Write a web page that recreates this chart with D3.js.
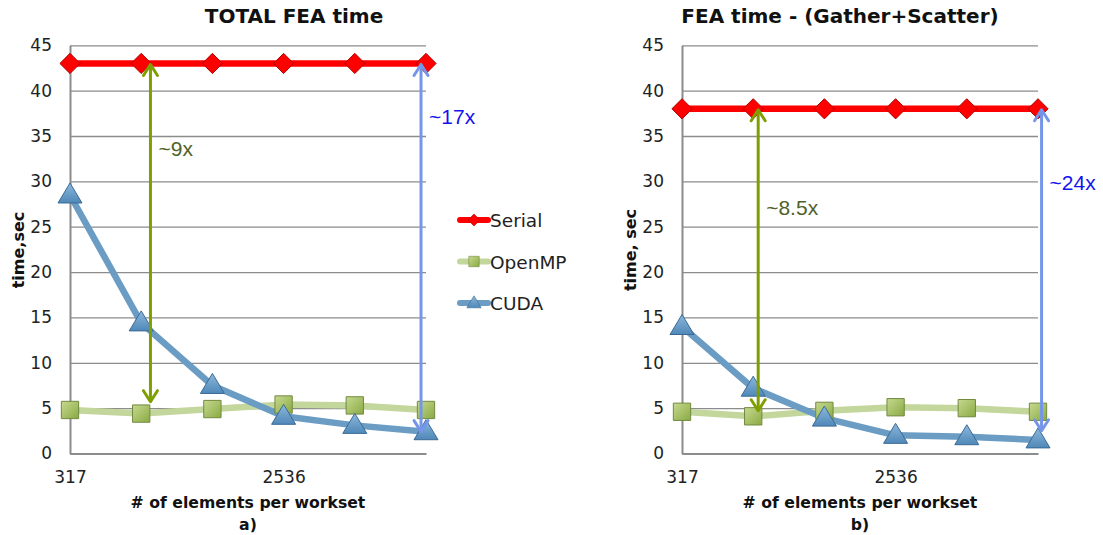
<!DOCTYPE html>
<html>
<head>
<meta charset="utf-8">
<script src="https://cdn.jsdelivr.net/npm/d3@7"></script>
<style>
  body { margin: 0; background: #fff; }
  text { font-family: "DejaVu Sans", sans-serif; }
</style>
</head>
<body>
<div id="visualization-area"></div>
<script>
// data
var categories = ["317", "634", "1268", "2536", "5072", "10144"];
var shownTicks = ["317", "2536"];
var seriesNames = ["Serial", "OpenMP", "CUDA"];

var totalSerial = [43, 43, 43, 43, 43, 43];
var totalOpenMP = [4.8, 4.4, 4.9, 5.4, 5.3, 4.8];
var totalCUDA   = [28.5, 14.4, 7.5, 4.1, 3.1, 2.4];

var gsSerial = [38, 38, 38, 38, 38, 38];
var gsOpenMP = [4.6, 4.1, 4.7, 5.1, 5.0, 4.6];
var gsCUDA   = [14.0, 7.2, 3.9, 2.0, 1.85, 1.5];

var yTicks = [0, 5, 10, 15, 20, 25, 30, 35, 40, 45];

// speedup arrows: [category index + offset, from value, to value, label]
var totalArrows = [
    {pos: 1.13, from: 43, to: 5.6, label: "~9x", labelY: 32.8, color: "#7f9f00", text: "#4f6228"},
    {pos: 4.93, from: 43, to: 2.3, label: "~17x", labelY: 36.3, color: "#7596e8", text: "#1414f0"}
];
var gsArrows = [
    {pos: 1.07, from: 38, to: 4.6, label: "~8.5x", labelY: 26.3, color: "#7f9f00", text: "#4f6228"},
    {pos: 5.05, from: 38, to: 2.4, label: "~24x", labelY: 29.0, color: "#7596e8", text: "#1414f0"}
];

var colors = {
    Serial: {line: "#ff0000", fill: "#ff0000", stroke: "#b00000"},
    OpenMP: {line: "#c3d69b", fill: "#9bbb59", stroke: "#71893f"},
    CUDA:   {line: "#6a9cc4", fill: "#5e96c4", stroke: "#3a6a94"}
};

var svg = d3.select("#visualization-area").append("svg")
    .attr("width", 1103)
    .attr("height", 535);

var defs = svg.append("defs");
var g1 = defs.append("linearGradient").attr("id", "sqGrad").attr("x1", 0).attr("y1", 0).attr("x2", 1).attr("y2", 1);
g1.append("stop").attr("offset", "0%").attr("stop-color", "#c6d98f");
g1.append("stop").attr("offset", "100%").attr("stop-color", "#8aaa44");
var g2 = defs.append("linearGradient").attr("id", "triGrad").attr("x1", 0).attr("y1", 0).attr("x2", 0).attr("y2", 1);
g2.append("stop").attr("offset", "0%").attr("stop-color", "#8db8dc");
g2.append("stop").attr("offset", "100%").attr("stop-color", "#4f88b8");

function markerPath(name) {
    if (name == "Serial") return d3.symbol().type(d3.symbolDiamond2).size(260)();
    if (name == "OpenMP") return d3.symbol().type(d3.symbolSquare).size(300)();
    return "M0,-12L12,8L-12,8Z";
}
function markerFill(name) {
    if (name == "OpenMP") return "url(#sqGrad)";
    if (name == "CUDA") return "url(#triGrad)";
    return colors.Serial.fill;
}

function drawChart(opt) {
    var x = d3.scalePoint().domain(categories).range([opt.left, opt.right]);
    var y = d3.scaleLinear().domain([0, 45]).range([453.5, 45.3]);
    var step = x.step();
    var xv = function(p) { return opt.left + p * step; };

    var g = svg.append("g");

    // gridlines
    g.append("g")
        .attr("transform", "translate(" + opt.left + ",0)")
        .call(d3.axisLeft(y).tickValues(yTicks).tickSize(-(opt.right - opt.left)).tickFormat(""))
        .call(function(a) {
            a.select(".domain").remove();
            a.selectAll("line").attr("stroke", "#8c8c8c").attr("stroke-width", 1.3);
        });

    // y axis
    g.append("g")
        .attr("transform", "translate(" + opt.left + ",0)")
        .call(d3.axisLeft(y).tickValues(yTicks).tickSize(0).tickPadding(18))
        .call(function(a) {
            a.select(".domain").attr("stroke", "#8c8c8c").attr("stroke-width", 2);
            a.selectAll("text").attr("font-size", 17).attr("fill", "#222")
                .style("font-family", "'DejaVu Sans', sans-serif");
        });

    // x axis
    g.append("g")
        .attr("transform", "translate(0," + y(0) + ")")
        .call(d3.axisBottom(x).tickSize(0).tickPadding(17)
            .tickFormat(function(d) { return shownTicks.indexOf(d) >= 0 ? d : ""; }))
        .call(function(a) {
            a.select(".domain").attr("stroke", "#8c8c8c").attr("stroke-width", 2);
            a.selectAll("text").attr("font-size", 17).attr("fill", "#222")
                .style("font-family", "'DejaVu Sans', sans-serif");
        });

    // series
    var line = d3.line().x(function(d, i) { return x(categories[i]); }).y(function(d) { return y(d); });
    var order = ["OpenMP", "CUDA", "Serial"];
    order.forEach(function(name) {
        var vals = opt.series[name];
        g.append("path").datum(vals)
            .attr("d", line)
            .attr("fill", "none")
            .attr("stroke", colors[name].line)
            .attr("stroke-width", 6.5)
            .attr("stroke-linejoin", "round");
    });
    order.forEach(function(name) {
        var vals = opt.series[name];
        g.selectAll(null).data(vals).enter().append("path")
            .attr("transform", function(d, i) { return "translate(" + x(categories[i]) + "," + y(d) + ")"; })
            .attr("d", markerPath(name))
            .attr("fill", markerFill(name))
            .attr("stroke", colors[name].stroke)
            .attr("stroke-width", 1);
    });

    // arrows
    opt.arrows.forEach(function(a) {
        var ax = xv(a.pos), y1 = y(a.from), y2 = y(a.to);
        g.append("line").attr("x1", ax).attr("x2", ax).attr("y1", y1 + 2).attr("y2", y2 - 2)
            .attr("stroke", a.color).attr("stroke-width", 3);
        [[y1, 1], [y2, -1]].forEach(function(e) {
            g.append("path")
                .attr("d", "M" + (ax - 7) + "," + (e[0] + e[1] * 12) + "L" + ax + "," + (e[0] + e[1] * 1) + "L" + (ax + 7) + "," + (e[0] + e[1] * 12))
                .attr("fill", "none").attr("stroke", a.color).attr("stroke-width", 3)
                .attr("stroke-linecap", "round").attr("stroke-linejoin", "round");
        });
        g.append("text")
            .attr("x", ax + 8).attr("y", y(a.labelY))
            .attr("font-size", 21)
            .style("font-family", "'Liberation Sans', Arial, sans-serif")
            .attr("fill", a.text)
            .text(a.label);
    });

    // titles
    g.append("text")
        .attr("x", opt.titleX).attr("y", 23)
        .attr("text-anchor", "middle")
        .attr("font-size", 20).attr("font-weight", "bold").attr("fill", "#111")
        .text(opt.title);
    g.append("text")
        .attr("transform", "translate(" + opt.yLabelX + "," + 250 + ") rotate(-90)")
        .attr("text-anchor", "middle")
        .attr("font-size", 16).attr("font-weight", "bold").attr("fill", "#111")
        .text(opt.yLabel);
    g.append("text")
        .attr("x", opt.xTitleX).attr("y", 508)
        .attr("text-anchor", "middle")
        .attr("font-size", 15.7).attr("font-weight", "bold").attr("fill", "#111")
        .text("# of elements per workset");
    g.append("text")
        .attr("x", opt.xTitleX).attr("y", 530)
        .attr("text-anchor", "middle")
        .attr("font-size", 15.7).attr("font-weight", "bold").attr("fill", "#111")
        .text(opt.sub);
}

drawChart({
    left: 70, right: 426, titleX: 294, yLabelX: 24, xTitleX: 248,
    title: "TOTAL FEA time", yLabel: "time,sec", sub: "a)",
    series: {Serial: totalSerial, OpenMP: totalOpenMP, CUDA: totalCUDA},
    arrows: totalArrows
});
drawChart({
    left: 682, right: 1038, titleX: 840, yLabelX: 636, xTitleX: 860,
    title: "FEA time - (Gather+Scatter)", yLabel: "time, sec", sub: "b)",
    series: {Serial: gsSerial, OpenMP: gsOpenMP, CUDA: gsCUDA},
    arrows: gsArrows
});

// legend
var legend = svg.append("g").attr("transform", "translate(460,220)");
seriesNames.forEach(function(name, i) {
    var row = legend.append("g").attr("transform", "translate(0," + (i * 41.5) + ")");
    row.append("line").attr("x1", 0).attr("x2", 28).attr("y1", 0).attr("y2", 0)
        .attr("stroke", colors[name].line).attr("stroke-width", 6).attr("stroke-linecap", "round");
    row.append("path")
        .attr("transform", "translate(14,0) scale(0.6)")
        .attr("d", markerPath(name))
        .attr("fill", markerFill(name))
        .attr("stroke", colors[name].stroke);
    row.append("text").attr("x", 30).attr("y", 7)
        .attr("font-size", 18.5).attr("fill", "#222")
        .text(name);
});
</script>
</body>
</html>
